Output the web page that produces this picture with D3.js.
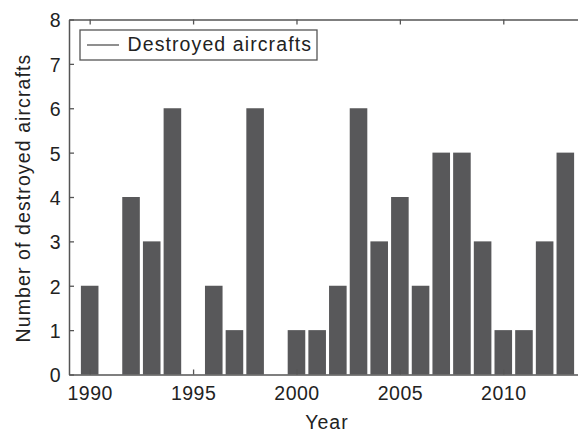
<!DOCTYPE html>
<html>
<head>
<meta charset="utf-8">
<script src="https://cdnjs.cloudflare.com/ajax/libs/d3/7.8.5/d3.min.js"></script>
<style>
  body { margin: 0; background: #fff; }
  svg { display: block; font-family: "Liberation Sans", Arial, sans-serif; }
</style>
</head>
<body>
<div id="chart-area"></div>
<script>
// data
const years = [1990, 1991, 1992, 1993, 1994, 1995, 1996, 1997, 1998, 1999, 2000, 2001,
               2002, 2003, 2004, 2005, 2006, 2007, 2008, 2009, 2010, 2011, 2012, 2013]
const destroyed = [2, 0, 4, 3, 6, 0, 2, 1, 6, 0, 1, 1,
                   2, 6, 3, 4, 2, 5, 5, 3, 1, 1, 3, 5]
const xTicks = [1990, 1995, 2000, 2005, 2010]
const yTicks = [0, 1, 2, 3, 4, 5, 6, 7, 8]

const margin = { left: 69, top: 19.5 }
const width = 517
const height = 355

const svg = d3.select('#chart-area')
              .append('svg')
              .attr('width', 578)
              .attr('height', 437)

const g = svg.append('g')
             .attr('transform', 'translate(' + margin.left + ',' + margin.top + ')')

// X Scale
const x = d3.scaleLinear()
            .domain([1989, 2014])
            .range([0, width])

// Y Scale
const y = d3.scaleLinear()
            .domain([0, 8])
            .range([height, 0])

const step = x(1991) - x(1990)
const barW = step * 0.85

// bars
g.selectAll('rect.bar')
 .data(years.map((d, i) => ({ year: d, value: destroyed[i] })))
 .enter()
 .append('rect')
 .attr('class', 'bar')
 .attr('x', d => x(d.year) - barW / 2)
 .attr('y', d => y(d.value))
 .attr('width', barW)
 .attr('height', d => height - y(d.value))
 .attr('fill', '#58585a')

const axisColor = '#555'

// axes (ticks pointing inward)
const xAxis = g.append('g')
               .attr('transform', 'translate(0,' + height + ')')
               .call(d3.axisBottom(x).tickValues(xTicks).tickFormat(d3.format('d'))
                       .tickSizeInner(-5).tickSizeOuter(0).tickPadding(12))
const xTop = g.append('g')
              .call(d3.axisTop(x).tickValues(xTicks).tickFormat('')
                      .tickSizeInner(-5).tickSizeOuter(0))
const yAxis = g.append('g')
               .call(d3.axisLeft(y).tickValues(yTicks)
                       .tickSizeInner(-5).tickSizeOuter(0).tickPadding(8))

;[xAxis, xTop, yAxis].forEach(a => {
  a.select('.domain').attr('stroke', axisColor).attr('stroke-width', 1.5)
  a.selectAll('.tick line').attr('stroke', axisColor).attr('stroke-width', 1.3)
  a.selectAll('.tick text')
   .attr('fill', '#222')
   .attr('font-size', '19.5px')
   .attr('letter-spacing', '0.5px')
   .attr('font-family', '"Liberation Sans", Arial, sans-serif')
})
yAxis.selectAll('.tick text').attr('dy', '0.38em')

// X Label
g.append('text')
 .attr('x', 258)
 .attr('y', height + 54)
 .attr('font-size', '19.5px')
 .attr('letter-spacing', '1px')
 .attr('fill', '#222')
 .attr('text-anchor', 'middle')
 .text('Year')

// Y Label
g.append('text')
 .attr('transform', 'rotate(-90)')
 .attr('x', -178.5)
 .attr('y', -39)
 .attr('font-size', '19.5px')
 .attr('letter-spacing', '1.1px')
 .attr('fill', '#222')
 .attr('text-anchor', 'middle')
 .text('Number of destroyed aircrafts')

// Legend
const legend = g.append('g').attr('transform', 'translate(11,10.5)')
legend.append('rect')
      .attr('width', 237)
      .attr('height', 30)
      .attr('fill', '#fff')
      .attr('stroke', '#555')
      .attr('stroke-width', 1.3)
legend.append('line')
      .attr('x1', 7).attr('x2', 39)
      .attr('y1', 15).attr('y2', 15)
      .attr('stroke', '#444')
      .attr('stroke-width', 1.2)
legend.append('text')
      .attr('x', 47.5)
      .attr('y', 20.7)
      .attr('font-size', '19.5px')
      .attr('letter-spacing', '1.1px')
      .attr('fill', '#222')
      .text('Destroyed aircrafts')
</script>
</body>
</html>
